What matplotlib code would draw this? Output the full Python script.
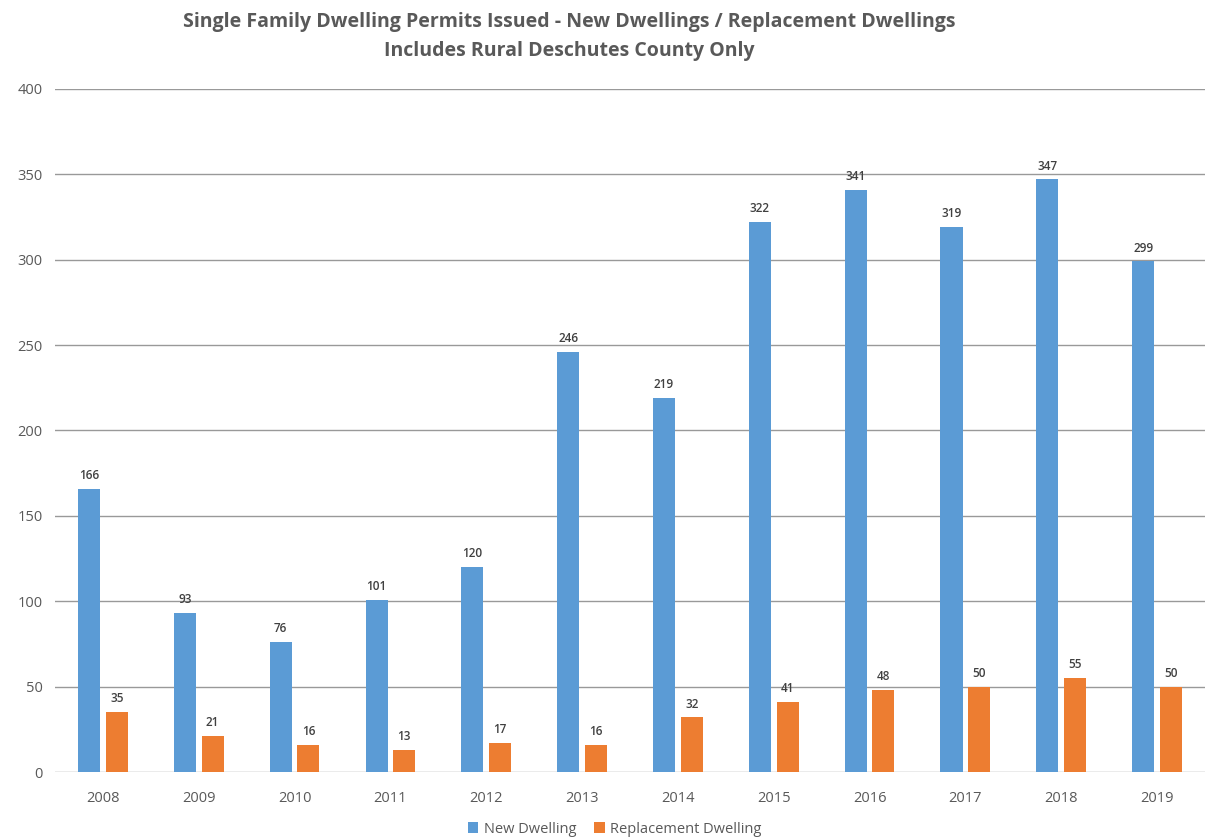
import matplotlib
matplotlib.use("Agg")
import matplotlib.pyplot as plt
import numpy as np

years = ["2008", "2009", "2010", "2011", "2012", "2013", "2014", "2015", "2016", "2017", "2018", "2019"]
new_dwelling = [166, 93, 76, 101, 120, 246, 219, 322, 341, 319, 347, 299]
replacement_dwelling = [35, 21, 16, 13, 17, 16, 32, 41, 48, 50, 55, 50]

BLUE = "#5B9BD5"
ORANGE = "#ED7D31"
TXT = "#595959"

plt.rcParams['font.family'] = ['Open Sans', 'DejaVu Sans']

fig = plt.figure(figsize=(12.06, 8.38), dpi=100)
ax = fig.add_axes([55/1206, 66/838, 1150/1206, 683/838])

x = np.arange(len(years))
w = 0.23
off = 0.145
b1 = ax.bar(x - off, new_dwelling, w, color=BLUE, zorder=3, label="New Dwelling")
b2 = ax.bar(x + off, replacement_dwelling, w, color=ORANGE, zorder=3, label="Replacement Dwelling")

for rect, v in zip(b1, new_dwelling):
    ax.text(rect.get_x() + rect.get_width()/2, v + 4, str(v), ha='center', va='bottom',
            fontsize=8.5, color="#404040", fontweight='semibold', zorder=4)
for rect, v in zip(b2, replacement_dwelling):
    ax.text(rect.get_x() + rect.get_width()/2, v + 4, str(v), ha='center', va='bottom',
            fontsize=8.5, color="#404040", fontweight='semibold', zorder=4)

ax.set_xlim(-0.5, len(years) - 0.5)
ax.set_ylim(0, 400)
ax.set_yticks(np.arange(0, 401, 50))
ax.set_xticks(x)
ax.set_xticklabels(years)
ax.grid(axis='y', color="#999999", linewidth=1, zorder=0)
for s in ax.spines.values():
    s.set_visible(False)
ax.tick_params(axis='both', length=0, colors=TXT, labelsize=10.5)
ax.tick_params(axis='y', pad=9)
ax.tick_params(axis='x', pad=14)

fig.text(569/1206, 1 - 22/838, "Single Family Dwelling Permits Issued - New Dwellings / Replacement Dwellings",
         ha='center', va='center', fontsize=14, fontweight='bold', color=TXT)
fig.text(569/1206, 1 - 51/838, "Includes Rural Deschutes County Only",
         ha='center', va='center', fontsize=14, fontweight='bold', color=TXT)

fig.legend(handles=[b1, b2], loc='center', bbox_to_anchor=(615/1206, 1 - 829/838), ncol=2,
           frameon=False, fontsize=10.5, labelcolor=TXT, handlelength=0.7, handleheight=0.7,
           handletextpad=0.4, columnspacing=1.2)

fig.savefig("out.png", dpi=100, facecolor='white')
